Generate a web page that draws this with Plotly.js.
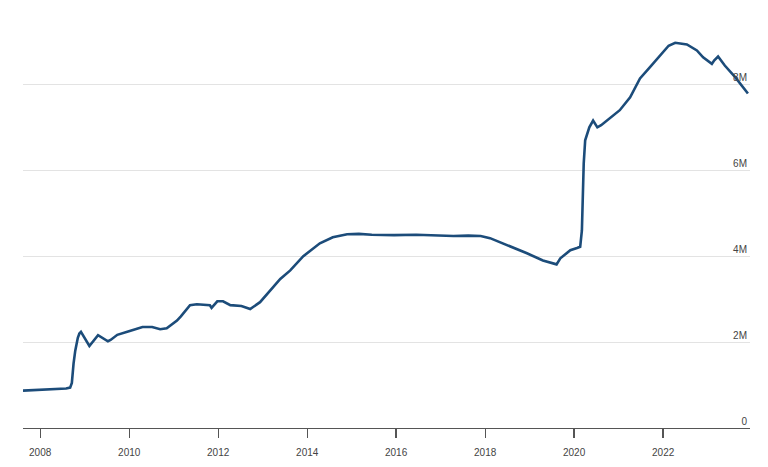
<!DOCTYPE html>
<html>
<head>
<meta charset="utf-8">
<script src="https://cdn.plot.ly/plotly-3.0.1.min.js"></script>
<style>html,body{margin:0;padding:0;background:#fff;}#chart{width:768px;height:467px;}</style>
</head>
<body>
<div id="chart"></div>
<script>
const dates = [
  "2007-08-13","2007-10-15","2008-01-01","2008-04-01","2008-07-01","2008-08-01","2008-09-03","2008-09-17",
  "2008-10-01","2008-10-15","2008-11-05","2008-11-18","2008-12-01","2009-02-08","2009-04-20","2009-07-10",
  "2009-08-01","2009-09-25","2010-01-05","2010-04-20","2010-07-08","2010-09-12","2010-11-05","2011-01-28",
  "2011-03-01","2011-05-15","2011-07-10","2011-10-25","2011-11-08","2011-12-25","2012-02-10","2012-04-10",
  "2012-07-10","2012-09-20","2012-12-10","2013-03-01","2013-05-25","2013-08-15","2013-11-30","2014-04-15",
  "2014-07-30","2014-11-25","2015-03-01","2015-06-15","2015-12-15","2016-06-15","2016-12-15","2017-04-15",
  "2017-08-15","2017-11-25","2018-02-10","2018-07-01","2018-12-10","2019-04-20","2019-08-10","2019-09-10",
  "2019-12-01","2020-01-25","2020-02-20","2020-03-05","2020-03-20","2020-04-01","2020-05-05","2020-06-05",
  "2020-07-10","2020-08-10","2020-10-22","2021-01-10","2021-04-05","2021-06-25","2021-09-15","2021-12-05",
  "2022-02-15","2022-04-10","2022-07-15","2022-10-05","2022-11-25","2023-02-05","2023-02-25","2023-03-28",
  "2023-05-22","2023-08-15","2023-11-28"
];
const assets = [
  0.87,0.88,0.89,0.89,0.91,0.92,0.94,1.05,
  1.50,1.80,2.10,2.20,2.24,1.91,2.16,2.02,
  2.05,2.17,2.26,2.35,2.35,2.30,2.32,2.50,
  2.60,2.86,2.88,2.86,2.80,2.95,2.95,2.86,
  2.84,2.77,2.93,3.19,3.47,3.67,4.00,4.30,
  4.44,4.51,4.52,4.50,4.49,4.50,4.48,4.47,
  4.48,4.47,4.42,4.26,4.07,3.90,3.81,3.95,
  4.14,4.19,4.22,4.60,6.16,6.70,7.00,7.16,
  7.00,7.05,7.21,7.40,7.70,8.14,8.40,8.67,
  8.90,8.97,8.93,8.79,8.63,8.48,8.56,8.65,
  8.44,8.17,7.79
];
const yTickVals = [0, 2, 4, 6, 8];
const yTickText = ["0", "2M", "4M", "6M", "8M"];

Plotly.newPlot("chart", [{
  x: dates, y: assets, type: "scatter", mode: "lines",
  line: {color: "#1c4c7a", width: 2.6, shape: "linear"},
  hoverinfo: "x+y"
}], {
  width: 768, height: 467,
  margin: {l: 23, r: 18, t: 20, b: 39},
  paper_bgcolor: "#fff", plot_bgcolor: "#fff",
  showlegend: false,
  font: {family: "Liberation Sans, Arial, sans-serif", size: 10, color: "#444"},
  xaxis: {
    type: "date",
    range: ["2007-08-13", "2023-12-15"],
    tick0: "2008-01-01", dtick: "M24", tickformat: "%Y",
    showgrid: false, zeroline: false,
    showline: true, linecolor: "#555", linewidth: 1.3,
    ticks: "outside", ticklen: 9, tickwidth: 1.3, tickcolor: "#555",
    ticklabelstandoff: 6,
    tickfont: {size: 10, color: "#444"}
  },
  yaxis: {
    side: "right",
    range: [0, 9.5],
    tickmode: "array", tickvals: yTickVals, ticktext: yTickText,
    ticklabelposition: "inside top",
    ticks: "", showline: false, zeroline: false,
    showgrid: true, gridcolor: "#e3e3e3", gridwidth: 1,
    tickfont: {size: 10, color: "#444"}
  }
}, {displayModeBar: false, staticPlot: true});
</script>
</body>
</html>
